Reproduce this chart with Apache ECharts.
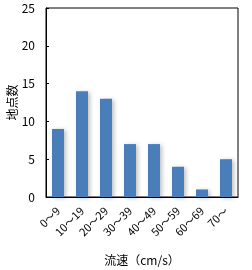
<!DOCTYPE html>
<html><head><meta charset="utf-8">
<script src="https://cdn.jsdelivr.net/npm/echarts@6/dist/echarts.min.js"></script>
<style>html,body{margin:0;padding:0;background:#fff}#c{width:252px;height:270px}</style>
</head><body><div id="c"></div>
<script>
const categories = ["0～9","10～19","20～29","30～39","40～49","50～59","60～69","70～"];
const counts = [9, 14, 13, 7, 7, 4, 1, 5];
const yTicks = [0, 5, 10, 15, 20, 25];
const xTitle = "流速（cm/s）";
const yTitle = "地点数";

const font = '"Noto Sans CJK JP", sans-serif';
const chart = echarts.init(document.getElementById('c'), null, {renderer:'canvas'});
chart.setOption({
  animation:false,
  grid:{left:46, right:14, top:8, bottom:73, containLabel:false, outerBoundsMode:'none', show:true, borderColor:'#000', borderWidth:1, backgroundColor:'transparent'},
  xAxis:{
    type:'category', data:categories,
    axisLine:{lineStyle:{color:'#000'}},
    axisTick:{show:false},
    axisLabel:{rotate:45, color:'#000', fontSize:11, fontFamily:font, margin:12, interval:0},
    name:xTitle, nameLocation:'middle', nameGap:57, nameMoveOverlap:false,
    nameTextStyle:{color:'#000', fontSize:12, fontFamily:font}
  },
  yAxis:{
    type:'value', min:yTicks[0], max:yTicks[yTicks.length-1], interval:5,
    axisLine:{show:true, lineStyle:{color:'#000'}},
    axisTick:{show:true, inside:true, length:3, lineStyle:{color:'#000'}},
    splitLine:{show:false},
    axisLabel:{color:'#000', fontSize:12, fontFamily:font, margin:11},
    name:yTitle, nameLocation:'middle', nameGap:28, nameRotate:90, nameMoveOverlap:false,
    nameTextStyle:{color:'#000', fontSize:12, fontFamily:font}
  },
  series:[{
    type:'bar', data:counts, barWidth:12,
    itemStyle:{color:'#4a7ebb', shadowColor:'rgba(0,0,0,0.25)', shadowBlur:4, shadowOffsetX:2, shadowOffsetY:1}
  }]
});
</script></body></html>
